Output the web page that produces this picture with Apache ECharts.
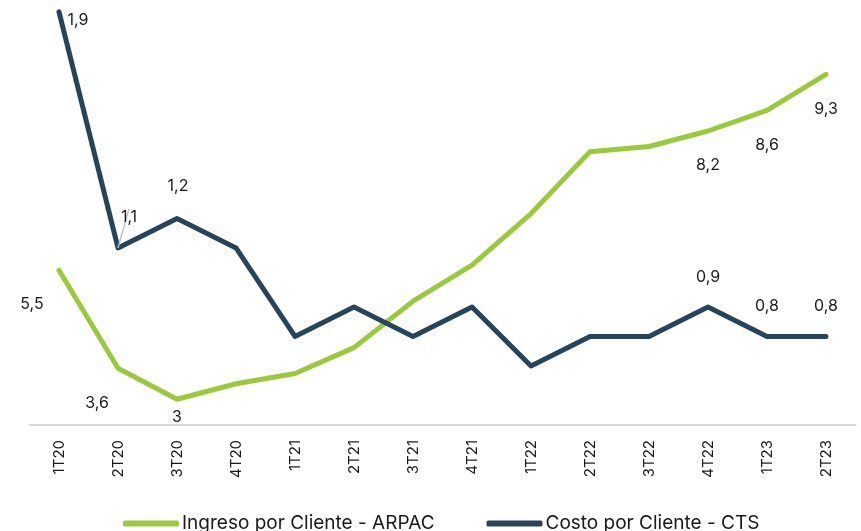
<!DOCTYPE html>
<html>
<head>
<meta charset="utf-8">
<script src="https://cdn.jsdelivr.net/npm/echarts@6/dist/echarts.min.js"></script>
<style>
html,body{margin:0;padding:0;background:#fff;}
#c{width:861px;height:531px;}
</style>
</head>
<body>
<div id="c"></div>
<script>
// ---- data ----
const categories = ['1T20','2T20','3T20','4T20','1T21','2T21','3T21','4T21','1T22','2T22','3T22','4T22','1T23','2T23'];
const arpac = [5.5, 3.6, 3.0, 3.3, 3.5, 4.0, 4.9, 5.6, 6.6, 7.8, 7.9, 8.2, 8.6, 9.3];
const cts   = [1.9, 1.1, 1.2, 1.1, 0.8, 0.9, 0.8, 0.9, 0.7, 0.8, 0.8, 0.9, 0.8, 0.8];
const seriesNames = ['Ingreso por Cliente - ARPAC', 'Costo por Cliente - CTS'];

// ---- label styling (which points carry a label, and where) ----
const FONT = 'Inter';
const arpacLabels = {0:[-27,34], 1:[-21,35], 2:[0,18], 11:[0,34], 12:[0,35], 13:[0,35]};
const ctsLabels = {0:[19,8], 1:[11,-31], 2:[1,-32], 11:[0,-30], 12:[0,-30], 13:[0,-30]};
const guideIdx = 1; // CTS label with a leader line
const fmt = v => String(v).replace('.', ',');

function build(values, labels, useLayout) {
  return values.map((v, i) => {
    const item = {value: v};
    if (labels[i]) {
      item.label = {show: true, position: 'inside', offset: useLayout ? [0, 0] : labels[i]};
      if (useLayout && i === guideIdx) {
        item.labelLine = {show: true, length2: 0, lineStyle: {color: '#bfbfbf', width: 1.5}};
      }
    }
    return item;
  });
}

const chart = echarts.init(document.getElementById('c'));
const labelBase = {show: false, color: '#1a1a1a', fontFamily: FONT, fontSize: 16,
  formatter: p => fmt(p.value)};

chart.setOption({
  animation: false,
  grid: {left: 29.5, right: 5.5, top: 0, bottom: 106, containLabel: false},
  legend: {
    bottom: -7, left: 118, itemGap: 52, itemWidth: 56, itemHeight: 6,
    icon: 'roundRect',
    textStyle: {fontFamily: FONT, fontSize: 19, color: '#1a1a1a', padding: [0,0,0,-2]},
    data: seriesNames
  },
  xAxis: {
    type: 'category', data: categories, boundaryGap: true,
    axisLine: {lineStyle: {color: '#d9d9d9', width: 2}},
    axisTick: {show: false},
    axisLabel: {rotate: 90, margin: 15, fontFamily: FONT, fontSize: 15, color: '#1a1a1a', interval: 0}
  },
  yAxis: [
    {type: 'value', min: 2.5, max: 10.74, show: false, splitLine: {show: false}},
    {type: 'value', min: 0.5, max: 1.94, show: false, splitLine: {show: false}}
  ],
  series: [
    {
      name: seriesNames[0], type: 'line', yAxisIndex: 0,
      data: build(arpac, arpacLabels, false),
      symbol: 'circle', symbolSize: 0, showSymbol: true,
      lineStyle: {color: '#9aca3c', width: 5, cap: 'round', join: 'round'},
      itemStyle: {color: '#9aca3c'},
      label: labelBase, z: 2
    },
    {
      name: seriesNames[1], type: 'line', yAxisIndex: 1,
      data: build(cts, ctsLabels, true),
      symbol: 'circle', symbolSize: 0, showSymbol: true,
      lineStyle: {color: '#27445a', width: 5, cap: 'round', join: 'round'},
      itemStyle: {color: '#27445a'},
      label: labelBase, z: 3,
      labelLayout: p => ctsLabels[p.dataIndex] ? {dx: ctsLabels[p.dataIndex][0], dy: ctsLabels[p.dataIndex][1]} : {}
    }
  ]
});
</script>
</body>
</html>
